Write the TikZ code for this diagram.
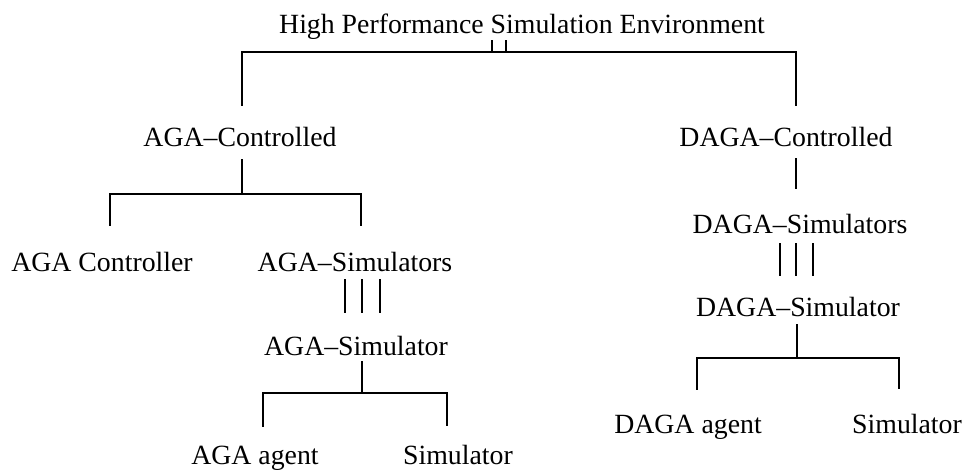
\documentclass[tikz,border=0pt]{standalone}
\usepackage{fontspec}
\setmainfont{Liberation Serif}
\usetikzlibrary{positioning}

\begin{document}
\begin{tikzpicture}[
    x=1pt, y=-1pt,
    line width=2.1pt,
    lbl/.style={inner sep=0pt, anchor=base,
                font=\fontsize{27.8}{31}\selectfont}
  ]
  \useasboundingbox (0,0) rectangle (965,474);

  % Root
  \node[lbl] (hpse) at (522, 33) {High Performance Simulation Environment};

  % Second level
  \node[lbl] (agactl) at (240, 146) {AGA--Controlled};
  \node[lbl] (dagactl) at (786, 146) {DAGA--Controlled};

  % AGA branch
  \node[lbl] (agacon) at (102, 271) {AGA Controller};
  \node[lbl] (agasims) at (355, 271) {AGA--Simulators};
  \node[lbl] (agasim) at (356, 355) {AGA--Simulator};
  \node[lbl] (agaagent) at (255, 464) {AGA agent};
  \node[lbl] (agasimr) at (458, 464) {Simulator};

  % DAGA branch
  \node[lbl] (dagasims) at (800, 233) {DAGA--Simulators};
  \node[lbl] (dagasim) at (798, 316) {DAGA--Simulator};
  \node[lbl] (dagaagent) at (688, 433) {DAGA agent};
  \node[lbl] (dagasimr) at (907, 433) {Simulator};

  % Root to second level (double line)
  \draw ([xshift=-30pt]hpse.south) -- ++(0,12);
  \draw ([xshift=-16pt]hpse.south) -- ++(0,12);
  \draw ([xshift=2pt, yshift=20pt]agactl.north) |- ([yshift=-12pt]hpse.south)
        -| ([xshift=10pt, yshift=20pt]dagactl.north);

  % AGA-Controlled to its children
  \draw ([xshift=2pt, yshift=-12pt]agactl.south) -- ++(0,35) coordinate (agaj);
  \draw ([xshift=8pt, yshift=25pt]agacon.north) |- (agaj)
        -| ([xshift=6pt, yshift=25pt]agasims.north);

  % AGA-Simulators to AGA-Simulator (triple line)
  \draw ([xshift=-10pt, yshift=-7pt]agasims.south) -- ++(0,34);
  \draw ([xshift=7pt, yshift=-7pt]agasims.south) -- ++(0,34);
  \draw ([xshift=25pt, yshift=-7pt]agasims.south) -- ++(0,34);

  % AGA-Simulator to its children
  \draw ([xshift=6pt, yshift=-5pt]agasim.south) -- ++(0,32) coordinate (agasimj);
  \draw ([xshift=8pt, yshift=18pt]agaagent.north) |- (agasimj)
        -| ([xshift=-11pt, yshift=18pt]agasimr.north);

  % DAGA-Controlled to DAGA-Simulators
  \draw ([xshift=10pt, yshift=-11pt]dagactl.south)
        -- ([xshift=-4pt, yshift=24pt]dagasims.north);

  % DAGA-Simulators to DAGA-Simulator (triple line)
  \draw ([xshift=-20pt, yshift=-9pt]dagasims.south) -- ++(0,33);
  \draw ([xshift=-4pt, yshift=-9pt]dagasims.south) -- ++(0,33);
  \draw ([xshift=13pt, yshift=-9pt]dagasims.south) -- ++(0,33);

  % DAGA-Simulator to its children
  \draw ([xshift=-1pt, yshift=-7pt]dagasim.south) -- ++(0,34) coordinate (dagasimj);
  \draw ([xshift=9pt, yshift=24pt]dagaagent.north) |- (dagasimj)
        -| ([xshift=-8pt, yshift=24pt]dagasimr.north);
\end{tikzpicture}
\end{document}
